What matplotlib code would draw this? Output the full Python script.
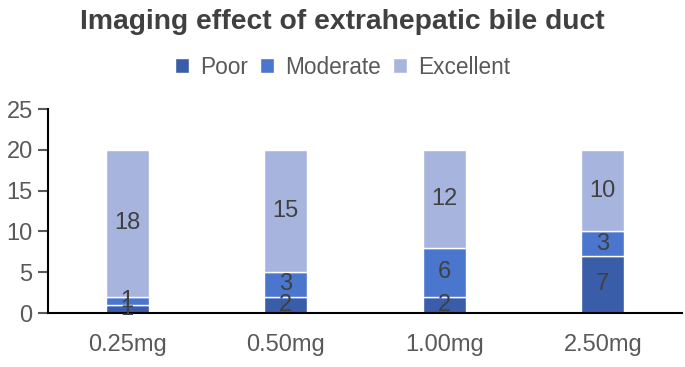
import matplotlib
matplotlib.use("Agg")
import matplotlib.pyplot as plt
import numpy as np

categories = ["0.25mg", "0.50mg", "1.00mg", "2.50mg"]
poor = [1, 2, 2, 7]
moderate = [1, 3, 6, 3]
excellent = [18, 15, 12, 10]
series_names = ["Poor", "Moderate", "Excellent"]
colors = ["#3A5DA9", "#4A76CD", "#A7B5DE"]
yticks = [0, 5, 10, 15, 20, 25]

plt.rcParams['font.family'] = ['Liberation Sans', 'DejaVu Sans']

fig = plt.figure(figsize=(6.85, 3.67), dpi=100)
ax = fig.add_axes([48/685, 1-313/367, (682-48)/685, (313-109)/367])

x = np.arange(len(categories))
bottom = np.zeros(len(categories))
handles = []
for vals, name, c in zip([poor, moderate, excellent], series_names, colors):
    bars = ax.bar(x, vals, bottom=bottom, width=0.27, color=c, edgecolor="white",
                  linewidth=1.0, label=name)
    handles.append(bars)
    for xi, v, b in zip(x, vals, bottom):
        ax.text(xi, b + v/2, str(v), ha="center", va="center", fontsize=17,
                color="#404040")
    bottom += np.array(vals)

ax.set_xlim(-0.5, len(categories) - 0.5)
ax.set_ylim(0, 25)
ax.set_yticks(yticks)
ax.set_xticks(x)
ax.set_xticklabels(categories)
ax.tick_params(axis="y", labelsize=17, colors="#595959", length=7, width=1.5,
               direction="out", pad=4)
ax.tick_params(axis="x", labelsize=17, colors="#595959", length=0, pad=15)
ax.spines["top"].set_visible(False)
ax.spines["right"].set_visible(False)
ax.spines["left"].set_linewidth(1.5)
ax.spines["bottom"].set_linewidth(1.5)
ax.spines["left"].set_color("black")
ax.spines["bottom"].set_color("black")

fig.text(0.5, 1-29/367, "Imaging effect of extrahepatic bile duct", ha="center",
         va="baseline", fontsize=20.3, fontweight="bold", color="#404040")
fig.legend(handles=handles, labels=series_names, loc="center",
           bbox_to_anchor=(0.5, 1-67/367), ncol=3, frameon=False, fontsize=16.3,
           handlelength=0.64, handleheight=0.64, handletextpad=0.5, columnspacing=0.5,
           labelcolor="#595959", borderaxespad=0, borderpad=0)

fig.savefig("out.png", dpi=100)
